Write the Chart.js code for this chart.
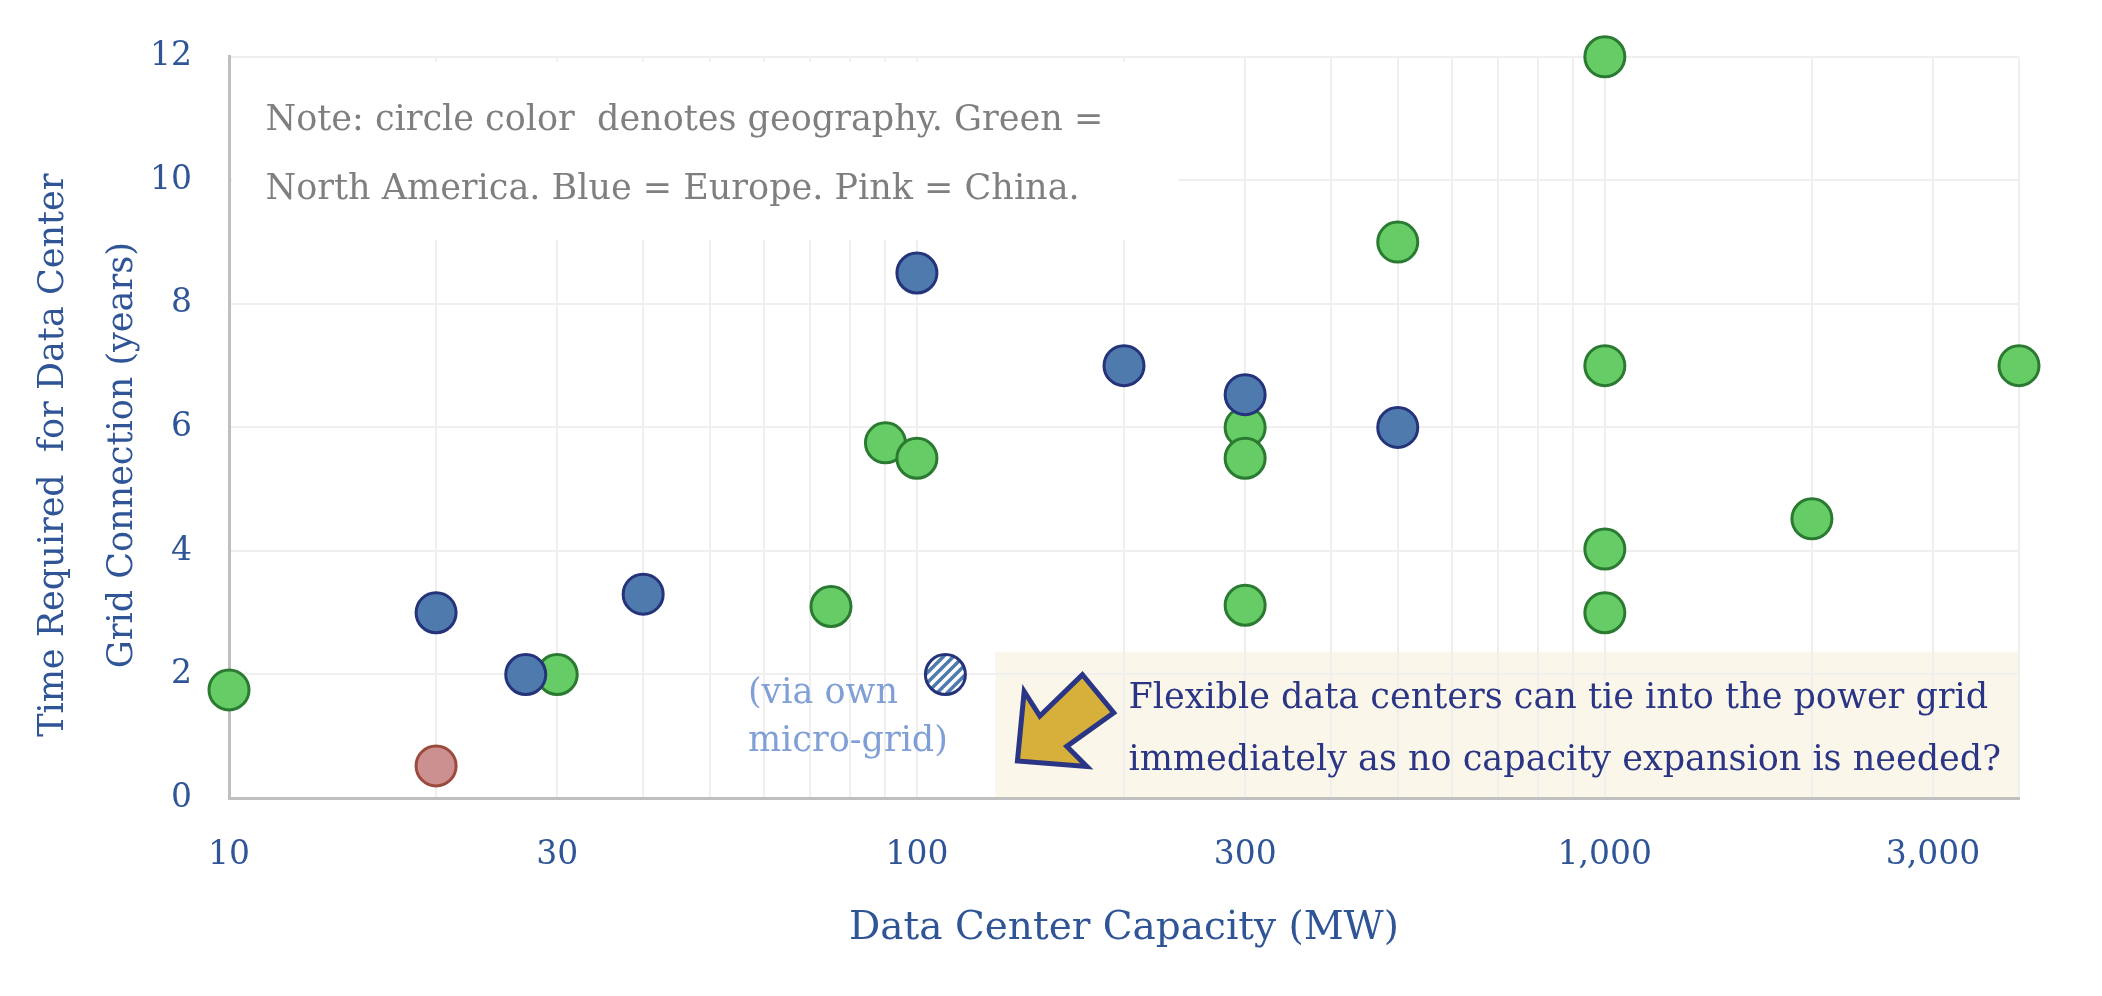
<!DOCTYPE html>
<html>
<head>
<meta charset="utf-8">
<script src="https://cdn.jsdelivr.net/npm/chart.js@4"></script>
<style>
  body { margin: 0; background: #fff; }
  #wrap { width: 2102px; height: 996px; position: relative; }
</style>
</head>
<body>
<div id="wrap"><canvas id="grafico"></canvas></div>
<script>
// datos (MW, años)
const verdeX = [10, 30, 75, 90, 100, 300, 300, 300, 500, 1000, 1000, 1000, 1000, 2000, 4000];
const verdeY = [1.75, 2.0, 3.1, 5.75, 5.5, 6.0, 5.5, 3.12, 9.0, 12.0, 7.0, 4.03, 3.0, 4.52, 7.0];
const azulX = [20, 27, 40, 100, 200, 300, 500];
const azulY = [3.0, 2.0, 3.3, 8.5, 7.0, 6.53, 6.0];
const rosaX = [20];
const rosaY = [0.52];
const microX = [110];
const microY = [2.0];

const gridX = [10, 20, 30, 40, 50, 60, 70, 80, 90, 100, 200, 300, 400, 500, 600, 700, 800, 900, 1000, 2000, 3000, 4000];
const etiquetasX = [10, 30, 100, 300, 1000, 3000];

const notaLineas = ['Note: circle color  denotes geography. Green =', 'North America. Blue = Europe. Pink = China.'];
const cajaLineas = ['Flexible data centers can tie into the power grid', 'immediately as no capacity expansion is needed?'];
const microLineas = ['(via own', 'micro-grid)'];
// los espacios duros al final bajan un poco el titulo vertical
const tituloY = ['Time Required  for Data Center\u00a0\u00a0\u00a0\u00a0\u00a0', 'Grid Connection (years)\u00a0\u00a0\u00a0\u00a0\u00a0'];

const FUENTE = '"DejaVu Serif", Georgia, serif';
const AZUL_TXT = '#2F5597';

function puntos(xs, ys) {
    return xs.map((x, i) => ({ x: x, y: ys[i] }));
}

// patron rayado para el punto de micro-red
function crearRayado() {
    let c = document.createElement('canvas');
    c.width = 10; c.height = 10;
    let g = c.getContext('2d');
    g.fillStyle = '#ffffff';
    g.fillRect(0, 0, 10, 10);
    g.strokeStyle = '#4F7AAD';
    g.lineWidth = 3.5;
    g.beginPath();
    g.moveTo(-2, 12); g.lineTo(12, -2);
    g.moveTo(-7, 7); g.lineTo(7, -7);
    g.moveTo(3, 17); g.lineTo(17, 3);
    g.stroke();
    return g.createPattern(c, 'repeat');
}

const anotaciones = {
    id: 'anotaciones',
    beforeDraw(chart) {
        let { ctx, chartArea, scales: { x, y } } = chart;
        // caja beige
        ctx.save();
        ctx.fillStyle = '#FAF6EA';
        let x0 = x.getPixelForValue(130);
        let y0 = y.getPixelForValue(2.37);
        ctx.fillRect(x0, y0, chartArea.right - x0, chartArea.bottom - y0);
        ctx.restore();
    },
    beforeDatasetsDraw(chart) {
        let { ctx, chartArea, scales: { x, y } } = chart;
        ctx.save();
        // fondo blanco de la nota
        let nx1 = x.getPixelForValue(240);
        let ny1 = y.getPixelForValue(11.92);
        let ny2 = y.getPixelForValue(9.03);
        ctx.fillStyle = '#ffffff';
        ctx.fillRect(chartArea.left + 3, ny1, nx1 - chartArea.left - 3, ny2 - ny1);
        ctx.fillStyle = '#7F7F7F';
        ctx.font = '35px ' + FUENTE;
        ctx.textBaseline = 'middle';
        ctx.textAlign = 'left';
        let tx = x.getPixelForValue(11.3);
        ctx.fillText(notaLineas[0], tx, y.getPixelForValue(10.97));
        ctx.fillText(notaLineas[1], tx, y.getPixelForValue(9.85));
        ctx.restore();
    },
    afterDatasetsDraw(chart) {
        let { ctx, scales: { x, y } } = chart;
        ctx.save();
        ctx.textBaseline = 'middle';
        ctx.textAlign = 'left';

        // texto micro-red
        ctx.fillStyle = '#7F9FD6';
        ctx.font = '35px ' + FUENTE;
        let mx = x.getPixelForValue(56.8);
        ctx.fillText(microLineas[0], mx, y.getPixelForValue(1.68));
        ctx.fillText(microLineas[1], mx, y.getPixelForValue(0.91));

        // texto de la caja
        ctx.fillStyle = '#2B3585';
        ctx.font = '35px ' + FUENTE;
        let cx = x.getPixelForValue(203);
        ctx.fillText(cajaLineas[0], cx, y.getPixelForValue(1.6));
        ctx.fillText(cajaLineas[1], cx, y.getPixelForValue(0.6));

        // flecha amarilla
        let px = x.getPixelForValue(140);
        let py = y.getPixelForValue(0.6);
        let k = 1.12;
        let forma = [[0, 0], [6, -62], [20, -40], [58, -77], [86, -43], [44, -13], [62, 5]];
        ctx.beginPath();
        forma.forEach((p, i) => {
            if (i === 0) ctx.moveTo(px + p[0] * k, py + p[1] * k);
            else ctx.lineTo(px + p[0] * k, py + p[1] * k);
        });
        ctx.closePath();
        ctx.fillStyle = '#D6B03A';
        ctx.fill();
        ctx.lineJoin = 'miter';
        ctx.lineWidth = 5;
        ctx.strokeStyle = '#2B3585';
        ctx.stroke();
        ctx.restore();
    }
};

function dibujarGrafico() {
    let ctx = document.getElementById('grafico').getContext('2d');
    let estiloPunto = { pointRadius: 20, pointHoverRadius: 20, pointBorderWidth: 3, showLine: false };

    new Chart(ctx, {
        type: 'scatter',
        data: {
            datasets: [
                Object.assign({ label: 'Europe', data: puntos(azulX, azulY), pointBackgroundColor: '#4F7AAD', pointBorderColor: '#24337A' }, estiloPunto),
                Object.assign({ label: 'Micro-grid', data: puntos(microX, microY), pointBackgroundColor: crearRayado(), pointBorderColor: '#24337A' }, estiloPunto),
                Object.assign({ label: 'China', data: puntos(rosaX, rosaY), pointBackgroundColor: '#CC9090', pointBorderColor: '#9C4A3E' }, estiloPunto),
                Object.assign({ label: 'North America', data: puntos(verdeX, verdeY), pointBackgroundColor: '#66CC66', pointBorderColor: '#2A7A32' }, estiloPunto)
            ]
        },
        options: {
            responsive: true,
            maintainAspectRatio: false,
            animation: false,
            clip: false,
            layout: { padding: { top: 38, right: 83, left: 0, bottom: 0 } },
            plugins: {
                legend: { display: false },
                tooltip: { enabled: false }
            },
            scales: {
                x: {
                    type: 'logarithmic',
                    min: 10,
                    max: 4000,
                    afterFit: s => { s.height = 198; },
                    afterBuildTicks: s => { s.ticks = gridX.map(v => ({ value: v })); },
                    grid: { color: '#EFEFEF', lineWidth: 2, drawTicks: false },
                    border: { color: '#BFBFBF', width: 3 },
                    ticks: {
                        autoSkip: false,
                        maxRotation: 0,
                        padding: 38,
                        color: AZUL_TXT,
                        font: { family: FUENTE, size: 33 },
                        callback: v => etiquetasX.includes(v) ? v.toLocaleString('en-US') : ''
                    },
                    title: {
                        display: true,
                        text: 'Data Center Capacity (MW)',
                        color: AZUL_TXT,
                        font: { family: FUENTE, size: 39 },
                        padding: { top: 0, bottom: 44 }
                    }
                },
                y: {
                    min: 0,
                    max: 12,
                    afterFit: s => { s.width = 229; },
                    grid: { color: '#EFEFEF', lineWidth: 2, drawTicks: false },
                    border: { color: '#BFBFBF', width: 3 },
                    ticks: {
                        stepSize: 2,
                        padding: 37,
                        color: AZUL_TXT,
                        font: { family: FUENTE, size: 33 }
                    },
                    title: {
                        display: true,
                        text: tituloY,
                        color: AZUL_TXT,
                        font: { family: FUENTE, size: 35, lineHeight: 1.97 },
                        padding: { top: 19, bottom: 0 }
                    }
                }
            }
        },
        plugins: [anotaciones]
    });
}

dibujarGrafico();
</script>
</body>
</html>
